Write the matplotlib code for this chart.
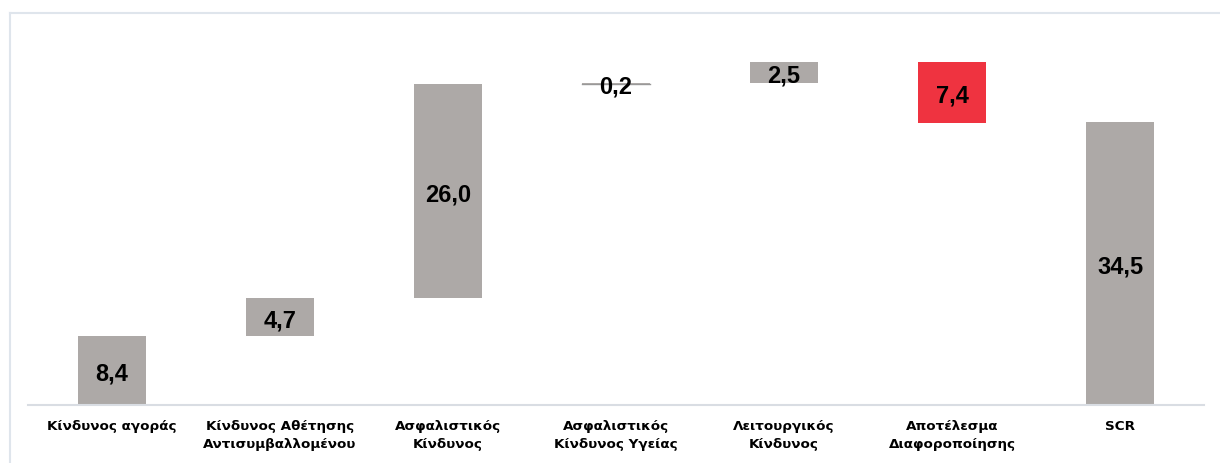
import numpy as np
import matplotlib.pyplot as plt
from matplotlib.lines import Line2D

#%% DATA
categories = ['Κίνδυνος αγοράς', 'Κίνδυνος Αθέτησης\nΑντισυμβαλλομένου',
              'Ασφαλιστικός\nΚίνδυνος', 'Ασφαλιστικός\nΚίνδυνος Υγείας',
              'Λειτουργικός\nΚίνδυνος', 'Αποτέλεσμα\nΔιαφοροποίησης', 'SCR']
values = [8.4, 4.7, 26.0, 0.2, 2.5, -7.4, 34.5]
labels = ['8,4', '4,7', '26,0', '0,2', '2,5', '7,4', '34,5']
is_total = [False, False, False, False, False, False, True]

gray = '#ADA9A7'
red = '#EF3340'

#%% WATERFALL
bottoms, heights, colors = [], [], []
running = 0.0
for v, tot in zip(values, is_total):
    if tot:
        bottoms.append(0.0)
        heights.append(v)
        colors.append(gray)
    elif v >= 0:
        bottoms.append(running)
        heights.append(v)
        colors.append(gray)
        running += v
    else:
        bottoms.append(running + v)
        heights.append(-v)
        colors.append(red)
        running += v

fig = plt.figure(figsize=(12.2, 4.64), dpi=100)
ax = fig.add_axes([28/1220, 58/464, (1204-28)/1220, 369/464])
x = np.arange(len(categories))
ax.bar(x, heights, bottom=bottoms, width=0.405, color=colors, zorder=2)

for xi, b, h, lab in zip(x, bottoms, heights, labels):
    ax.annotate(lab, (xi, b + h/2), xytext=(0, -2), textcoords='offset points',
                ha='center', va='center', fontsize=17, fontweight='bold',
                family='Liberation Sans', zorder=3)

# thin bar drawn as a line
i = 3
ax.plot([x[i]-0.2, x[i]+0.2], [bottoms[i]+heights[i]/2]*2, color='#999999', lw=1, zorder=1)

ax.set_xlim(-0.5, len(categories)-0.5)
ax.set_ylim(0, 45)
ax.set_yticks([])
ax.set_xticks(x)
ax.set_xticklabels(categories, fontsize=9.7, fontweight='bold', linespacing=1.55)
ax.tick_params(axis='x', length=0, pad=10)
for s in ['top', 'right', 'left']:
    ax.spines[s].set_visible(False)
ax.spines['bottom'].set_color('#d9dde3')
ax.spines['bottom'].set_linewidth(1.5)

# outer frame
fig.add_artist(Line2D([10/1220, 10/1220], [0, 1-14/464], color='#dfe5ec', lw=1.5))
fig.add_artist(Line2D([10/1220, 1], [1-14/464, 1-14/464], color='#dfe5ec', lw=1.5))

plt.savefig('out.png', dpi=100)
